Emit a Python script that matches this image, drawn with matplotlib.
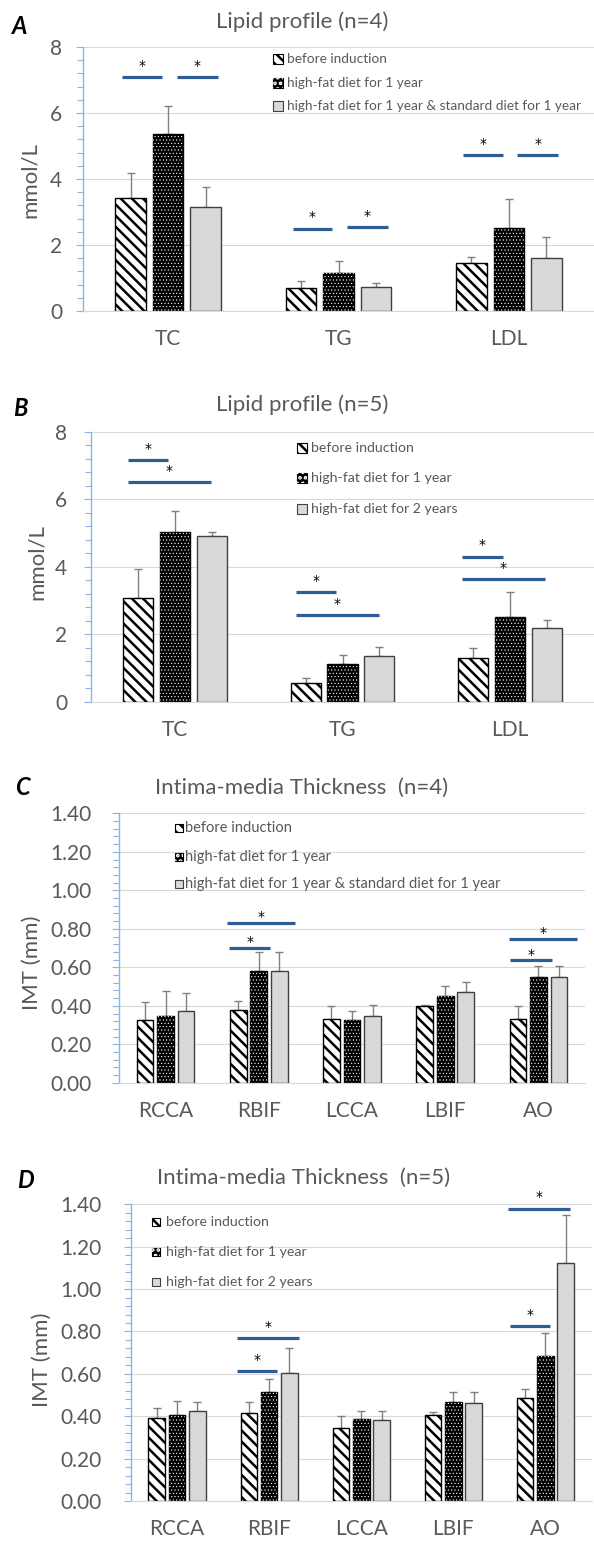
import matplotlib
matplotlib.use("Agg")
import matplotlib.pyplot as plt
import numpy as np
from matplotlib.patches import Rectangle
from matplotlib.ticker import MultipleLocator, FormatStrFormatter

W, H = 594, 1545
FONT = ["Lato", "DejaVu Sans"]
plt.rcParams["font.family"] = FONT
plt.rcParams["hatch.linewidth"] = 1.8

GRAY_TXT = "#595959"
AX_BLUE = "#8db3e2"
GRID = "#d9d9d9"
SIG_BLUE = "#2e5c94"

# ---------------- data ----------------
lipid_cats = ["TC", "TG", "LDL"]
imt_cats = ["RCCA", "RBIF", "LCCA", "LBIF", "AO"]

labels_ab1 = ["before induction", "high-fat diet for 1 year",
              "high-fat diet for 1 year & standard diet for 1 year"]
labels_ab2 = ["before induction", "high-fat diet for 1 year",
              "high-fat diet for 2 years"]

# Panel A (n=4)
a_before = [3.43, 0.69, 1.44]
a_hf1 = [5.36, 1.16, 2.52]
a_std = [3.14, 0.72, 1.60]
a_before_sd = [0.74, 0.22, 0.21]
a_hf1_sd = [0.86, 0.36, 0.86]
a_std_sd = [0.63, 0.14, 0.63]

# Panel B (n=5)
b_before = [3.08, 0.56, 1.29]
b_hf1 = [5.04, 1.13, 2.52]
b_hf2 = [4.92, 1.36, 2.17]
b_before_sd = [0.85, 0.13, 0.31]
b_hf1_sd = [0.61, 0.25, 0.74]
b_hf2_sd = [0.12, 0.25, 0.25]

# Panel C (n=4)
c_before = [0.326, 0.377, 0.330, 0.400, 0.331]
c_hf1 = [0.349, 0.579, 0.326, 0.451, 0.548]
c_std = [0.373, 0.579, 0.347, 0.473, 0.548]
c_before_sd = [0.094, 0.050, 0.067, 0.003, 0.066]
c_hf1_sd = [0.128, 0.099, 0.045, 0.053, 0.059]
c_std_sd = [0.095, 0.099, 0.057, 0.052, 0.059]

# Panel D (n=5)
d_before = [0.390, 0.417, 0.346, 0.404, 0.484]
d_hf1 = [0.406, 0.516, 0.385, 0.465, 0.684]
d_hf2 = [0.425, 0.602, 0.382, 0.461, 1.121]
d_before_sd = [0.047, 0.049, 0.054, 0.017, 0.043]
d_hf1_sd = [0.067, 0.058, 0.041, 0.051, 0.110]
d_hf2_sd = [0.041, 0.121, 0.044, 0.055, 0.230]

# significance bars: (category index, start offset, end offset, level)
a_sig = [(0, -0.27, -0.035, 7.10), (0, 0.05, 0.29, 7.10),
         (1, -0.27, -0.040, 2.50), (1, 0.05, 0.29, 2.55),
         (2, -0.27, -0.035, 4.73), (2, 0.05, 0.29, 4.73)]
b_sig = [(0, -0.28, -0.04, 7.17), (0, -0.28, 0.215, 6.50),
         (1, -0.28, -0.04, 3.24), (1, -0.28, 0.215, 2.57),
         (2, -0.29, -0.04, 4.30), (2, -0.29, 0.210, 3.63)]
c_sig = [(1, -0.32, 0.125, 0.700), (1, -0.34, 0.39, 0.832),
         (4, -0.30, 0.145, 0.636), (4, -0.32, 0.41, 0.747)]
d_sig = [(1, -0.35, 0.08, 0.613), (1, -0.35, 0.32, 0.770),
         (4, -0.38, 0.05, 0.827), (4, -0.41, 0.27, 1.380)]

# ---------------- helpers ----------------
fig = plt.figure(figsize=(W / 100, H / 100), dpi=100)


def rect(left, top, right, bottom):
    return [left / W, 1 - bottom / H, (right - left) / W, (bottom - top) / H]


def fpx(x, y):
    return x / W, 1 - y / H


BAR_W = 0.18
PITCH = 0.22


def set_hlw(bars, lw):
    for b in bars:
        if hasattr(b, "set_hatch_linewidth"):
            b.set_hatch_linewidth(lw)


def draw_panel(box, cats, series, sds, ymax, major, minor, fmt, sig, star_off,
               ypad):
    ax = fig.add_axes(rect(*box))
    x = np.arange(len(cats))
    for s, (vals, sd) in enumerate(zip(series, sds)):
        xs = x + (s - 1) * PITCH
        if s == 0:
            bars = ax.bar(xs, vals, BAR_W, facecolor="white", edgecolor="black",
                          hatch="\\\\\\", linewidth=1.0, zorder=2)
            set_hlw(bars, 1.8)
        elif s == 1:
            ax.bar(xs, vals, BAR_W, facecolor="black", edgecolor="black",
                   linewidth=1.0, zorder=2)
            bars = ax.bar(xs, vals, BAR_W, facecolor="none", edgecolor="white",
                          hatch=".....", linewidth=0, zorder=2.1)
            set_hlw(bars, 0.4)
        else:
            ax.bar(xs, vals, BAR_W, facecolor="#d9d9d9", edgecolor="#404040",
                   linewidth=1.0, zorder=2)
        ax.errorbar(xs, vals, yerr=[np.zeros(len(vals)), sd], fmt="none",
                    ecolor="#808080", elinewidth=1.0, capsize=3, capthick=1.0,
                    zorder=1.5)
    for ci, x0, x1, lvl in sig:
        ax.plot([ci + x0, ci + x1], [lvl, lvl], color=SIG_BLUE, lw=2.3,
                solid_capstyle="butt", zorder=3)
        ax.annotate("*", xy=((2 * ci + x0 + x1) / 2, lvl), xytext=(0, star_off),
                    textcoords="offset points", ha="center", va="center",
                    fontsize=10, color="black", family="DejaVu Sans")
    ax.set_xlim(-0.5, len(cats) - 0.5)
    ax.set_ylim(0, ymax)
    ax.yaxis.set_major_locator(MultipleLocator(major))
    ax.yaxis.set_minor_locator(MultipleLocator(minor))
    ax.yaxis.set_major_formatter(FormatStrFormatter(fmt))
    ax.set_xticks(x)
    ax.set_xticklabels(cats)
    ax.grid(axis="y", which="major", color=GRID, lw=0.8)
    ax.set_axisbelow(True)
    for sp in ("top", "right"):
        ax.spines[sp].set_visible(False)
    ax.spines["left"].set_color(AX_BLUE)
    ax.spines["left"].set_linewidth(1.0)
    ax.spines["bottom"].set_color(GRID)
    ax.spines["bottom"].set_linewidth(0.8)
    ax.tick_params(axis="y", which="major", color=AX_BLUE, length=5, width=0.8,
                   labelsize=15, labelcolor=GRAY_TXT, pad=ypad)
    ax.tick_params(axis="y", which="minor", color=AX_BLUE, length=4, width=0.8)
    ax.tick_params(axis="x", length=0, labelsize=15, labelcolor=GRAY_TXT,
                   pad=13)
    ax.patch.set_alpha(0)
    return ax


def legend(labels, sq_x, txt_x, rows, sq, fs):
    styles = [dict(facecolor="white", edgecolor="black", hatch="\\\\\\"),
              dict(facecolor="black", edgecolor="black"),
              dict(facecolor="#d9d9d9", edgecolor="#404040")]
    for lab, y, st in zip(labels, rows, styles):
        x0, y0 = fpx(sq_x, y + sq / 2)
        r = Rectangle((x0, y0), sq / W, sq / H, transform=fig.transFigure,
                      linewidth=0.8, **st)
        fig.add_artist(r)
        if st["facecolor"] == "black":
            r2 = Rectangle((x0, y0), sq / W, sq / H, transform=fig.transFigure,
                           facecolor="none", edgecolor="white", hatch="...",
                           linewidth=0)
            fig.add_artist(r2)
        tx, ty = fpx(txt_x, y)
        fig.text(tx, ty, lab, ha="left", va="center", fontsize=fs,
                 color=GRAY_TXT)


def titles(letter, lxy, title, txy, ylabel, yxy):
    fig.text(*fpx(*lxy), letter, ha="center", va="center", fontsize=17,
             fontweight="bold", fontstyle="italic", color="black")
    fig.text(*fpx(*txy), title, ha="center", va="center", fontsize=16,
             color=GRAY_TXT)
    fig.text(*fpx(*yxy), ylabel, ha="center", va="center", fontsize=16,
             color=GRAY_TXT, rotation=90)


# Panel A
draw_panel((83, 47, 594, 311), lipid_cats, [a_before, a_hf1, a_std],
           [a_before_sd, a_hf1_sd, a_std_sd], 8, 2, 0.4, "%d", a_sig, 8, 10)
legend(labels_ab1, 273, 287, [59, 83, 106], 10, 9.8)
titles("A", (20, 27), "Lipid profile (n=4)", (302, 22), "mmol/L", (30, 180))

# Panel B
draw_panel((91, 431.7, 594, 701.7), lipid_cats, [b_before, b_hf1, b_hf2],
           [b_before_sd, b_hf1_sd, b_hf2_sd], 8, 2, 0.4, "%d", b_sig, 8, 12)
legend(labels_ab2, 297, 311, [447.7, 478.3, 509], 10, 10.2)
titles("B", (20, 408), "Lipid profile (n=5)", (302, 405), "mmol/L", (37, 562))

# Panel C
draw_panel((119, 813.3, 585, 1082.8), imt_cats, [c_before, c_hf1, c_std],
           [c_before_sd, c_hf1_sd, c_std_sd], 1.4, 0.2, 0.04, "%.2f", c_sig, 4,
           15)
legend(labels_ab1, 175, 185, [828.3, 856.7, 884], 8, 10.5)
titles("C", (22, 787), "Intima-media Thickness  (n=4)", (302, 788),
       "IMT (mm)", (32, 963))

# Panel D
draw_panel((131, 1204.3, 591.5, 1501), imt_cats, [d_before, d_hf1, d_hf2],
           [d_before_sd, d_hf1_sd, d_hf2_sd], 1.4, 0.2, 0.04, "%.2f", d_sig, 8,
           16)
legend(labels_ab2, 152, 166, [1221.7, 1251.7, 1282.3], 8, 10.2)
titles("D", (25, 1180), "Intima-media Thickness  (n=5)", (304, 1178),
       "IMT (mm)", (42, 1360))

fig.savefig("out.png", dpi=100)
